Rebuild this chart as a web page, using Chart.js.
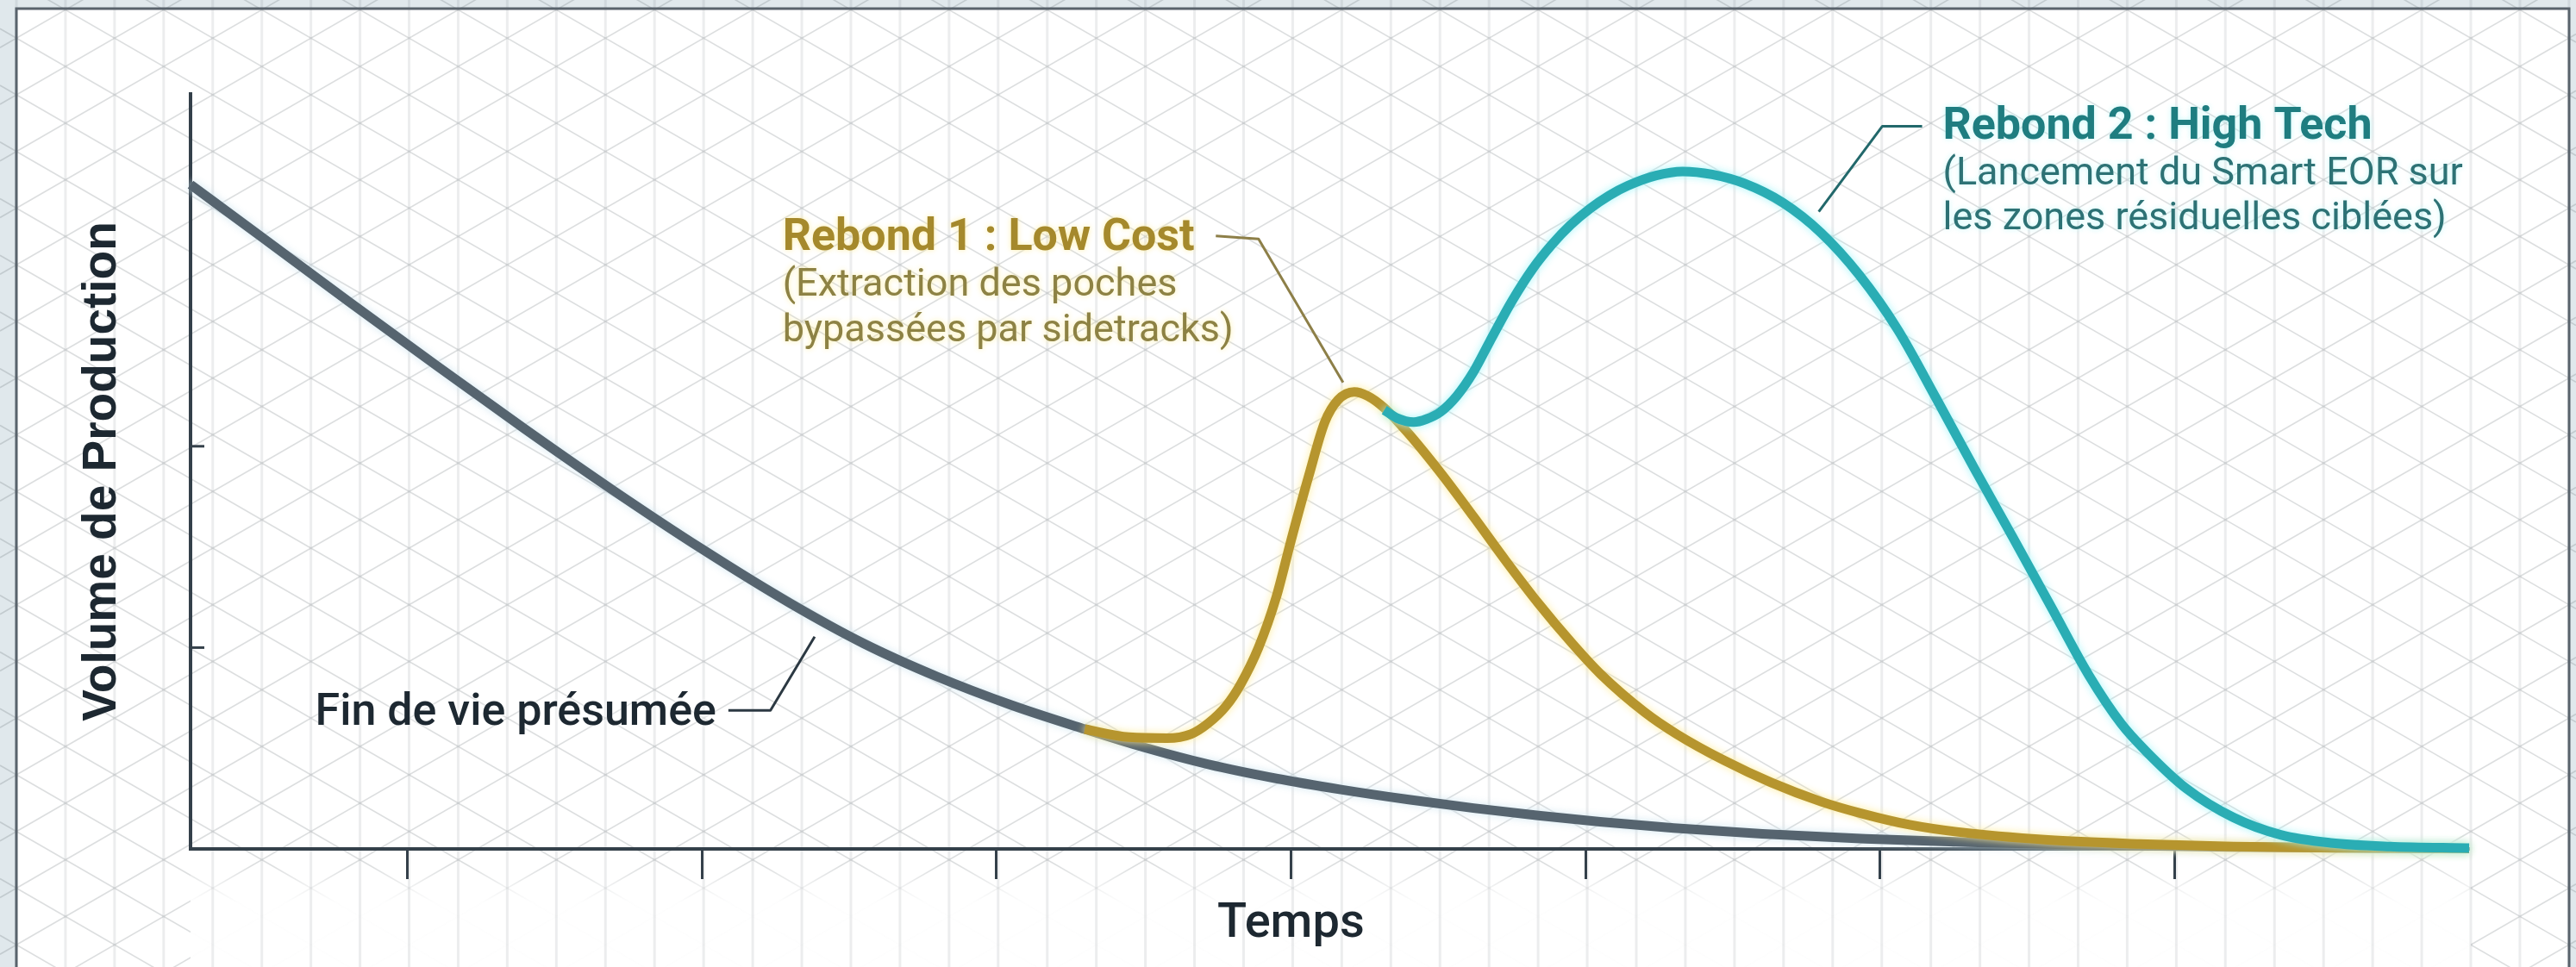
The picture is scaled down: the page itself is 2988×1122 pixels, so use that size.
<!DOCTYPE html>
<html>
<head>
<meta charset="utf-8">
<script src="https://cdn.jsdelivr.net/npm/chart.js@4.4.1/dist/chart.umd.min.js"></script>
<style>
  html, body { margin: 0; padding: 0; background: #e4eaee; overflow: hidden; }
  canvas { display: block; }
</style>
</head>
<body>
<canvas id="c" width="2988" height="1122"></canvas>
<script>
// ---------------- DATA ----------------
const seriesLabels = ['Fin de vie présumée', 'Rebond 1 : Low Cost', 'Rebond 2 : High Tech'];

// Baseline decline ("Fin de vie présumée")
const declineX = [-0.736, -0.5, -0.2, 0.1, 0.4, 0.7, 1.0, 1.3, 1.55, 1.8, 2.05, 2.3, 2.5, 2.72, 2.95, 3.17, 3.4, 3.62, 3.84, 4.05, 4.3, 4.6, 4.95, 5.3, 5.7, 6.2, 6.6, 7.0];
const declineY = [3.30, 3.045, 2.72, 2.40, 2.085, 1.78, 1.49, 1.22, 1.02, 0.855, 0.715, 0.595, 0.505, 0.42, 0.35, 0.295, 0.245, 0.203, 0.166, 0.135, 0.104, 0.075, 0.05, 0.033, 0.02, 0.01, 0.005, 0.002];

// Rebond 1 : Low Cost
const rebond1X = [2.3, 2.45, 2.58, 2.66, 2.72, 2.78, 2.83, 2.89, 2.95, 3.0, 3.06, 3.115, 3.16, 3.215, 3.26, 3.317, 3.395, 3.507, 3.62, 3.73, 3.84, 3.955, 4.05, 4.2, 4.31, 4.47, 4.63, 4.8, 4.94, 5.1, 5.26, 5.57, 5.88, 6.2, 6.6, 7.0];
const rebond1Y = [0.595, 0.555, 0.55, 0.57, 0.625, 0.71, 0.82, 1.0, 1.25, 1.53, 1.85, 2.12, 2.23, 2.27, 2.25, 2.19, 2.07, 1.87, 1.65, 1.43, 1.22, 1.02, 0.87, 0.68, 0.57, 0.44, 0.33, 0.235, 0.175, 0.12, 0.085, 0.045, 0.025, 0.012, 0.005, 0.002];

// Rebond 2 : High Tech
const rebond2X = [3.317, 3.36, 3.417, 3.46, 3.507, 3.563, 3.62, 3.675, 3.75, 3.82, 3.885, 3.95, 4.015, 4.08, 4.145, 4.24, 4.33, 4.43, 4.54, 4.67, 4.80, 4.93, 5.06, 5.19, 5.32, 5.45, 5.58, 5.71, 5.82, 5.9, 6.04, 6.2, 6.36, 6.53, 6.73, 7.0];
const rebond2Y = [2.18, 2.14, 2.12, 2.135, 2.17, 2.25, 2.37, 2.52, 2.72, 2.88, 3.0, 3.10, 3.18, 3.245, 3.295, 3.345, 3.365, 3.35, 3.305, 3.21, 3.06, 2.85, 2.58, 2.24, 1.89, 1.55, 1.205, 0.86, 0.62, 0.49, 0.30, 0.156, 0.07, 0.03, 0.012, 0.004];

// Axes
const xRange = [-0.736, 7];
const yRange = [0, 3.75];
const xTickValues = [0, 1, 2, 3, 4, 5, 6];
const yTickValues = [1, 2];
const xTitleText = 'Temps';
const xTitleAt = 3;
const yTitleText = 'Volume de Production';

// ---------------- STYLE ----------------
const COL = {
  gray: '#56646f', gold: '#b6952e', teal: '#2aadb4',
  axis: '#34404a', text: '#1d2831'
};

const notes = [
  {
    lines: ['Rebond 1 : Low Cost', '(Extraction des poches', 'bypassées par sidetracks)'],
    at: [1.274, 3.032], align: 'left', offsets: [0, 55, 108],
    titleColor: '#a5892c', bodyColor: '#8d8244', glow: 'rgba(255,238,160,0.9)',
    leader: [[2.745, 3.045], [2.89, 3.03], [3.177, 2.317]], leaderColor: '#8d7f48'
  },
  {
    lines: ['Rebond 2 : High Tech', '(Lancement du Smart EOR sur', 'les zones résiduelles ciblées)'],
    at: [5.213, 3.585], align: 'left', offsets: [0, 55, 107],
    titleColor: '#1f7d80', bodyColor: '#2d7275', glow: 'rgba(190,248,250,0.9)',
    leader: [[5.143, 3.59], [5.008, 3.59], [4.792, 3.165]], leaderColor: '#22686b'
  },
  {
    lines: ['Fin de vie présumée'],
    at: [1.049, 0.674], align: 'right', offsets: [0], single: true,
    titleColor: '#1d2831', bodyColor: '#1d2831', glow: 'rgba(255,255,255,0.9)',
    leader: [[1.09, 0.688], [1.233, 0.688], [1.383, 1.054]], leaderColor: '#2c3943'
  }
];

const toPts = (xs, ys) => xs.map((x, i) => ({ x, y: ys[i] }));

// ---------------- PLUGINS ----------------
const GRID = { x0: 19, y0: 44.25, step: 56.94 };
const FRAME = { left: 19, top: 10, right: 2980 };

const backgroundPlugin = {
  id: 'isoBackground',
  beforeDraw(chart) {
    const { ctx, width: W, height: H, chartArea: ca } = chart;
    ctx.save();
    ctx.fillStyle = '#e0e8ec';
    ctx.fillRect(0, 0, W, H);
    ctx.fillStyle = '#ffffff';
    ctx.fillRect(FRAME.left, FRAME.top, FRAME.right - FRAME.left, H + 20);

    const s = GRID.step, t = Math.tan(Math.PI / 6), hh = 2 * s * t;
    ctx.beginPath();
    for (let k = -40; k <= 60; k++) {
      ctx.moveTo(0, -t * GRID.x0 + GRID.y0 + k * hh);
      ctx.lineTo(W, t * (W - GRID.x0) + GRID.y0 + k * hh);
      ctx.moveTo(0, t * GRID.x0 + GRID.y0 + k * hh);
      ctx.lineTo(W, -t * (W - GRID.x0) + GRID.y0 + k * hh);
    }
    ctx.strokeStyle = 'rgba(70,78,86,0.19)';
    ctx.lineWidth = 1.6;
    ctx.stroke();

    // fade under the time axis
    const g = ctx.createLinearGradient(0, ca.bottom + 18, 0, ca.bottom + 62);
    g.addColorStop(0, 'rgba(255,255,255,0)');
    g.addColorStop(1, 'rgba(255,255,255,0.96)');
    ctx.fillStyle = g;
    ctx.fillRect(ca.left, ca.bottom + 18, ca.right - ca.left + 2, H - ca.bottom);

    ctx.beginPath();
    for (let x = GRID.x0; x < W; x += s) {
      ctx.moveTo(x, 0); ctx.lineTo(x, H);
    }
    ctx.strokeStyle = 'rgba(70,78,86,0.10)';
    ctx.lineWidth = 3;
    ctx.stroke();

    // frame
    ctx.beginPath();
    ctx.moveTo(FRAME.left, H + 10);
    ctx.lineTo(FRAME.left, FRAME.top);
    ctx.lineTo(FRAME.right, FRAME.top);
    ctx.lineTo(FRAME.right, H + 10);
    ctx.strokeStyle = '#59636c';
    ctx.lineWidth = 3;
    ctx.stroke();
    ctx.restore();
  }
};

const glowPlugin = {
  id: 'lineGlow',
  beforeDatasetDraw(chart, args) {
    const ds = chart.data.datasets[args.index];
    chart.ctx.save();
    chart.ctx.shadowColor = ds.glowColor || 'transparent';
    chart.ctx.shadowBlur = 10;
  },
  afterDatasetDraw(chart) {
    chart.ctx.restore();
  }
};

const overlayPlugin = {
  id: 'overlay',
  afterDraw(chart) {
    const { ctx, scales: { x, y } } = chart;
    ctx.save();
    // inner y ticks
    ctx.strokeStyle = COL.axis;
    ctx.lineWidth = 3;
    yTickValues.forEach(v => {
      const py = y.getPixelForValue(v);
      ctx.beginPath();
      ctx.moveTo(x.left, py);
      ctx.lineTo(x.left + 16, py);
      ctx.stroke();
    });
    // x title
    ctx.font = '500 56px Roboto';
    ctx.fillStyle = COL.text;
    ctx.textAlign = 'center';
    ctx.textBaseline = 'middle';
    ctx.fillText(xTitleText, x.getPixelForValue(xTitleAt), x.top + 88);

    // annotations
    notes.forEach(n => {
      ctx.beginPath();
      n.leader.forEach(([lx, ly], i) => {
        const px = x.getPixelForValue(lx), py = y.getPixelForValue(ly);
        if (i) ctx.lineTo(px, py); else ctx.moveTo(px, py);
      });
      ctx.strokeStyle = n.leaderColor;
      ctx.lineWidth = 3;
      ctx.lineJoin = 'round';
      ctx.stroke();

      const px = x.getPixelForValue(n.at[0]), py = y.getPixelForValue(n.at[1]);
      ctx.textAlign = n.align;
      ctx.textBaseline = 'middle';
      ctx.shadowColor = n.glow;
      ctx.shadowBlur = 6;
      n.lines.forEach((t, i) => {
        if (n.single) ctx.font = '500 52px Roboto';
        else ctx.font = i === 0 ? 'bold 52px Roboto' : '45px Roboto';
        ctx.fillStyle = i === 0 ? n.titleColor : n.bodyColor;
        ctx.fillText(t, px, py + n.offsets[i]);
      });
      ctx.shadowBlur = 0;
    });
    ctx.restore();
  }
};

// ---------------- CHART ----------------
new Chart(document.getElementById('c'), {
  type: 'line',
  data: {
    datasets: [
      { label: seriesLabels[2], data: toPts(rebond2X, rebond2Y), borderColor: COL.teal, glowColor: 'rgba(160,245,250,0.95)', order: 0 },
      { label: seriesLabels[1], data: toPts(rebond1X, rebond1Y), borderColor: COL.gold, glowColor: 'rgba(255,236,150,0.95)', order: 1 },
      { label: seriesLabels[0], data: toPts(declineX, declineY), borderColor: COL.gray, glowColor: 'rgba(205,228,240,0.9)', order: 2 }
    ]
  },
  options: {
    responsive: false,
    animation: false,
    devicePixelRatio: 1,
    layout: { padding: { left: 60, top: 109, right: 124, bottom: 0 } },
    elements: {
      point: { radius: 0, hoverRadius: 0 },
      line: { borderWidth: 11, cubicInterpolationMode: 'monotone', borderCapStyle: 'butt', borderJoinStyle: 'round', fill: false }
    },
    datasets: { line: { clip: false } },
    plugins: { legend: { display: false }, tooltip: { enabled: false } },
    scales: {
      x: {
        type: 'linear', min: xRange[0], max: xRange[1],
        afterBuildTicks: s => { s.ticks = xTickValues.map(v => ({ value: v })); },
        afterFit: s => { s.height = 137; },
        ticks: { display: false },
        grid: { drawOnChartArea: false, drawTicks: true, tickLength: 35, tickColor: COL.axis, tickWidth: 3 },
        border: { display: true, color: COL.axis, width: 4 }
      },
      y: {
        type: 'linear', min: yRange[0], max: yRange[1],
        afterBuildTicks: s => { s.ticks = yTickValues.map(v => ({ value: v })); },
        afterFit: s => { s.width = 161; },
        ticks: { display: false },
        grid: { drawOnChartArea: false, drawTicks: false },
        border: { display: true, color: COL.axis, width: 4 },
        title: {
          display: true, text: yTitleText, color: COL.text,
          font: { family: 'Liberation Sans', weight: 'bold', size: 55 },
          padding: { top: 26, bottom: 0 }
        }
      }
    }
  },
  plugins: [backgroundPlugin, glowPlugin, overlayPlugin]
});
</script>
</body>
</html>
